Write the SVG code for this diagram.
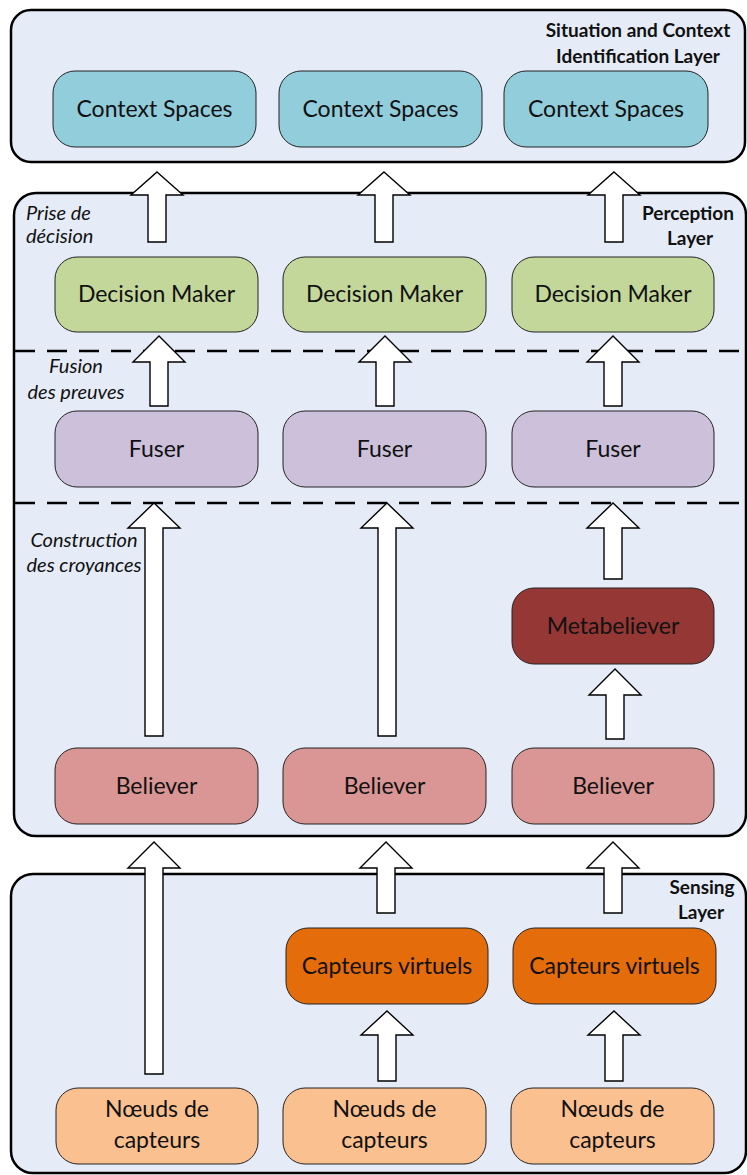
<svg xmlns="http://www.w3.org/2000/svg" width="747" height="1175" viewBox="0 0 747 1175">
<style>
.layer{fill:#e6ecf7;stroke:#000;stroke-width:2.5}
.node{stroke:#222;stroke-width:1}
.cs{fill:#92cddc}.dm{fill:#c4d79b}.fu{fill:#ccc0da}.be{fill:#da9694}.mb{fill:#953735}.cv{fill:#e46c0a}.nc{fill:#fac090}
.t{font-family:Lato,"Liberation Sans",sans-serif;font-size:23px;fill:#111;text-anchor:middle}
.lt{font-family:Lato,"Liberation Sans",sans-serif;font-size:19px;font-weight:bold;fill:#111;text-anchor:middle}
.it{font-family:Lato,"Liberation Sans",sans-serif;font-size:20px;font-style:italic;fill:#111}
.dash{stroke:#000;stroke-width:2.5;stroke-dasharray:20 12;fill:none}
.arr{fill:#fff;stroke:#000;stroke-width:1.4;stroke-linejoin:miter}
</style>
<g id="layer-situation">
<rect class="layer" x="11" y="10" width="734" height="152" rx="20"/>
<text class="lt" x="638" y="37">Situation and Context</text>
<text class="lt" x="638" y="63">Identification Layer</text>
</g>
<g id="layer-perception">
<rect class="layer" x="14" y="193" width="732" height="643" rx="22"/>
<text class="lt" x="688" y="220">Perception</text>
<text class="lt" x="690" y="245">Layer</text>
<text class="it" x="26" y="220">Prise de</text>
<text class="it" x="26" y="243">décision</text>
<text class="it" x="76" y="373" text-anchor="middle">Fusion</text>
<text class="it" x="76" y="399" text-anchor="middle">des preuves</text>
<text class="it" x="84" y="547" text-anchor="middle">Construction</text>
<text class="it" x="84" y="572" text-anchor="middle">des croyances</text>
<line class="dash" x1="15" y1="351" x2="746" y2="351"/>
<line class="dash" x1="15" y1="503" x2="746" y2="503"/>
</g>
<g id="layer-sensing">
<rect class="layer" x="11" y="874" width="735" height="299" rx="22"/>
<text class="lt" x="702" y="894">Sensing</text>
<text class="lt" x="701" y="919">Layer</text>
</g>
<g id="cs1"><rect class="node cs" x="53" y="71" width="203" height="76" rx="22"/><text class="t" x="154.5" y="117">Context Spaces</text></g>
<g id="cs2"><rect class="node cs" x="279" y="71" width="203" height="76" rx="22"/><text class="t" x="380.5" y="117">Context Spaces</text></g>
<g id="cs3"><rect class="node cs" x="504" y="71" width="204" height="76" rx="22"/><text class="t" x="606" y="117">Context Spaces</text></g>
<g id="dm1"><rect class="node dm" x="55" y="257" width="203" height="75" rx="22"/><text class="t" x="156.5" y="302">Decision Maker</text></g>
<g id="dm2"><rect class="node dm" x="283" y="257" width="203" height="75" rx="22"/><text class="t" x="384.5" y="302">Decision Maker</text></g>
<g id="dm3"><rect class="node dm" x="512" y="257" width="202" height="75" rx="22"/><text class="t" x="613" y="302">Decision Maker</text></g>
<g id="fu1"><rect class="node fu" x="55" y="411" width="203" height="76" rx="22"/><text class="t" x="156.5" y="457">Fuser</text></g>
<g id="fu2"><rect class="node fu" x="283" y="411" width="203" height="76" rx="22"/><text class="t" x="384.5" y="457">Fuser</text></g>
<g id="fu3"><rect class="node fu" x="512" y="411" width="202" height="76" rx="22"/><text class="t" x="613" y="457">Fuser</text></g>
<g id="mb3"><rect class="node mb" x="512" y="588" width="202" height="76" rx="22"/><text class="t" x="613" y="634">Metabeliever</text></g>
<g id="be1"><rect class="node be" x="55" y="748" width="203" height="76" rx="22"/><text class="t" x="156.5" y="794">Believer</text></g>
<g id="be2"><rect class="node be" x="283" y="748" width="203" height="76" rx="22"/><text class="t" x="384.5" y="794">Believer</text></g>
<g id="be3"><rect class="node be" x="512" y="748" width="202" height="76" rx="22"/><text class="t" x="613" y="794">Believer</text></g>
<g id="cv2"><rect class="node cv" x="286" y="928" width="202" height="76" rx="22"/><text class="t" x="387" y="974">Capteurs virtuels</text></g>
<g id="cv3"><rect class="node cv" x="513" y="928" width="203" height="76" rx="22"/><text class="t" x="614.5" y="974">Capteurs virtuels</text></g>
<g id="nc1"><rect class="node nc" x="56" y="1088" width="202" height="76" rx="22"/><text class="t" x="157" y="1117">Nœuds de</text><text class="t" x="157" y="1148">capteurs</text></g>
<g id="nc2"><rect class="node nc" x="283" y="1088" width="203" height="76" rx="22"/><text class="t" x="384.5" y="1117">Nœuds de</text><text class="t" x="384.5" y="1148">capteurs</text></g>
<g id="nc3"><rect class="node nc" x="511" y="1088" width="203" height="76" rx="22"/><text class="t" x="612.5" y="1117">Nœuds de</text><text class="t" x="612.5" y="1148">capteurs</text></g>
<g id="connectors">
<path class="arr" d="M157,172 L183,195 L166,195 L166,242 L148,242 L148,195 L131,195 Z"/>
<path class="arr" d="M384,172 L410,195 L393,195 L393,242 L375,242 L375,195 L358,195 Z"/>
<path class="arr" d="M614,172 L640,195 L623,195 L623,242 L605,242 L605,195 L588,195 Z"/>
<path class="arr" d="M159,336 L185,362 L168,362 L168,406 L150,406 L150,362 L133,362 Z"/>
<path class="arr" d="M385,336 L411,362 L394,362 L394,406 L376,406 L376,362 L359,362 Z"/>
<path class="arr" d="M613,336 L639,362 L622,362 L622,406 L604,406 L604,362 L587,362 Z"/>
<path class="arr" d="M154,503 L180,528 L163,528 L163,736 L145,736 L145,528 L128,528 Z"/>
<path class="arr" d="M387,503 L413,528 L396,528 L396,736 L378,736 L378,528 L361,528 Z"/>
<path class="arr" d="M613,503 L639,528 L622,528 L622,579 L604,579 L604,528 L587,528 Z"/>
<path class="arr" d="M615,669 L641,695 L624,695 L624,739 L606,739 L606,695 L589,695 Z"/>
<path class="arr" d="M154,842 L180,868 L163,868 L163,1074 L145,1074 L145,868 L128,868 Z"/>
<path class="arr" d="M386,842 L412,868 L395,868 L395,913 L377,913 L377,868 L360,868 Z"/>
<path class="arr" d="M613,842 L639,868 L622,868 L622,913 L604,913 L604,868 L587,868 Z"/>
<path class="arr" d="M387,1011 L413,1035 L396,1035 L396,1081 L378,1081 L378,1035 L361,1035 Z"/>
<path class="arr" d="M614,1011 L640,1035 L623,1035 L623,1081 L605,1081 L605,1035 L588,1035 Z"/>
</g>
</svg>
